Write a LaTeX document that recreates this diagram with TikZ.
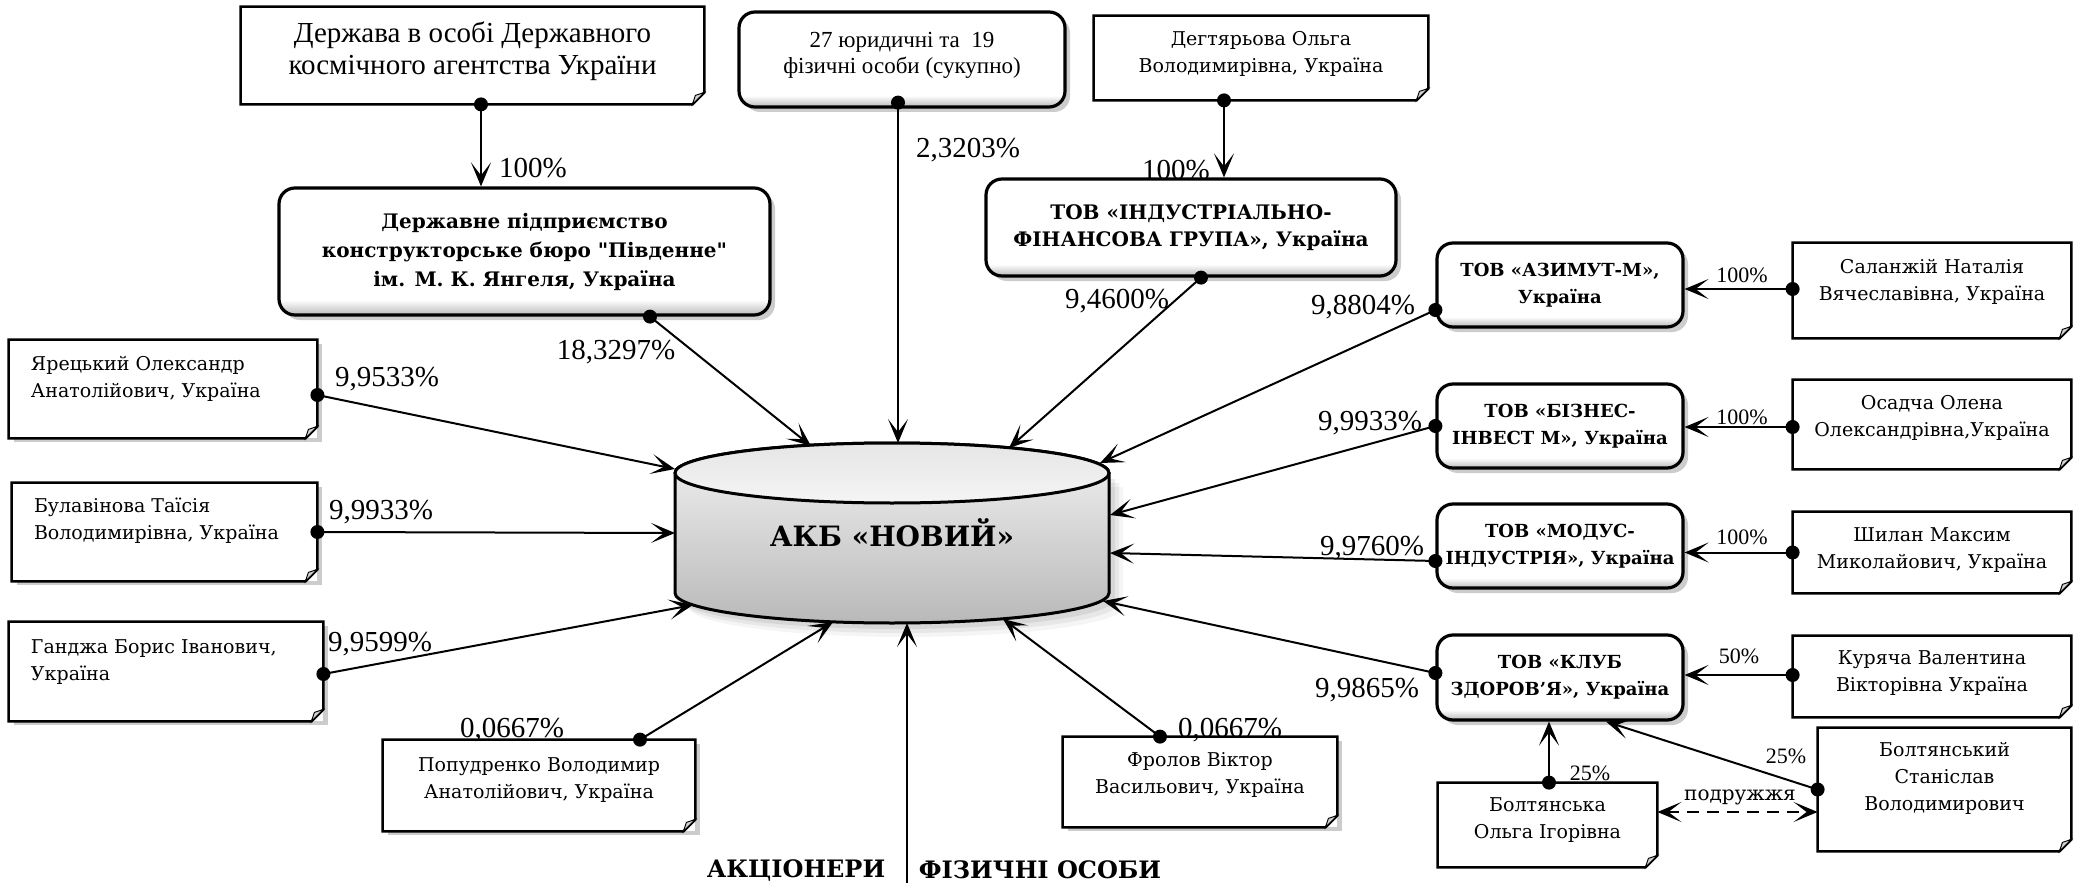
\documentclass[tikz,border=0pt]{standalone}
\usepackage{fontspec}
\setmainfont{Liberation Serif}
\newfontfamily\bkm{DejaVu Serif}
\usetikzlibrary{arrows.meta,shadows}
\pgfdeclareverticalshading{bevel}{100bp}{color(0bp)=(gray!55); color(25bp)=(gray!55); color(31bp)=(white); color(100bp)=(white)}
\pgfdeclareverticalshading{cylbody}{100bp}{color(0bp)=(gray!55); color(25bp)=(gray!55); color(75bp)=(gray!10); color(100bp)=(gray!10)}
\pgfdeclareverticalshading{cyltop}{100bp}{color(0bp)=(gray!8); color(25bp)=(gray!8); color(75bp)=(gray!20); color(100bp)=(gray!20)}
\newcommand\nbx[3]{\begin{minipage}[c][#2][t]{#1}#3\end{minipage}}
\newcommand\nfont{\bkm\fontsize{9.5}{13.5}\selectfont}
\newcommand\noteframe[1]{%
  \draw[line width=1.2pt] (#1.north west) -- (#1.north east) -- ([yshift=6pt]#1.south east) -- ([xshift=-6pt]#1.south east) -- (#1.south west) -- cycle;
  \filldraw[fill=gray!35, line width=0.5pt] ([yshift=6pt]#1.south east) -- ([xshift=-4.5pt,yshift=4.5pt]#1.south east) -- ([xshift=-6pt]#1.south east) -- cycle;}
\begin{document}
\begin{tikzpicture}[x=0.5pt,y=-0.5pt,
  rbox/.style={draw, line width=1.6pt, rounded corners=8pt, shading=bevel, inner sep=0pt, align=center,
    drop shadow={shadow xshift=2.5pt, shadow yshift=-2.5pt, opacity=0.4, fill=gray}},
  rbold/.style={rbox, font=\bkm\bfseries\fontsize{9}{13.5}\selectfont},
  note/.style={inner sep=0pt, fill=white},
  snote/.style={note, drop shadow={shadow xshift=2.5pt, shadow yshift=-2pt, opacity=0.4, fill=gray}},
  pct/.style={inner sep=0pt, font=\fontsize{14.5}{16}\selectfont},
  spct/.style={inner sep=0pt, font=\fontsize{11}{13}\selectfont},
  tip/.tip={Stealth[length=12pt,width=10pt,inset=6.5pt]},
  conn/.style={line width=1pt, -tip},
  dotc/.style={fill=black},
  bigl/.style={inner sep=0pt, font=\bkm\bfseries\fontsize{12}{14}\selectfont}
  ]
\useasboundingbox (0,0) rectangle (2073,883);

% ---- cylinder ----
\foreach \s/\o in {14/0.08,10/0.12,6/0.16}{
  \fill[gray,opacity=\o] (675+\s,473+\s) -- (675+\s,593+\s) arc[start angle=180,end angle=0,x radius=217,y radius=30] -- (1109+\s,473+\s) -- cycle;}
\path[shading=cylbody, draw, line width=1.5pt] (675,473) -- (675,593) arc[start angle=180,end angle=0,x radius=217,y radius=30] -- (1109,473) arc[start angle=0,end angle=-180,x radius=217,y radius=30] -- cycle;
\path[shading=cyltop, draw, line width=1.5pt] (892,473) ellipse [x radius=217, y radius=30];
\node[font=\bkm\bfseries\fontsize{14}{16}\selectfont, inner sep=0pt] (akb) at (892,533) {АКБ «НОВИЙ»};

% ---- top row ----
\node[note] (derzh) at (472.5,55.5) {\nbx{231.5pt}{48.5pt}{\fontsize{14.5}{16}\selectfont\centering\rule{0pt}{18pt}Держава в особі Державного\\космічного агентства України}};
\noteframe{derzh}
\node[rbox] (sum27) at (902,59.5) {\nbx{163pt}{47.5pt}{\fontsize{11.5}{13}\selectfont\centering\rule{0pt}{18pt}27 юридичні та\ \ 19\\фізичні особи (сукупно)}};
\node[note] (degt) at (1261,58) {\nbx{167pt}{42pt}{\nfont\centering\rule{0pt}{15pt}Дегтярьова Ольга\\Володимирівна, Україна}};
\noteframe{degt}

\node[rbold, minimum width=245.5pt, minimum height=63.5pt, font=\bkm\bfseries\fontsize{10}{14.5}\selectfont] (dp) at (524.5,251.5) {Державне підприємство\\конструкторське бюро "Південне"\\ім. М. К. Янгеля, Україна};
\node[rbold, minimum width=205pt, minimum height=48.5pt, font=\bkm\bfseries\fontsize{10}{13.5}\selectfont] (ifg) at (1191,227.5) {ТОВ «ІНДУСТРІАЛЬНО-\\ФІНАНСОВА ГРУПА», Україна};

% ---- right column ----
\node[rbold, minimum width=123pt, minimum height=42pt] (az) at (1560,285) {ТОВ «АЗИМУТ-М»,\\Україна};
\node[rbold, minimum width=123pt, minimum height=42pt] (biz) at (1560,426) {ТОВ «БІЗНЕС-\\ІНВЕСТ М», Україна};
\node[rbold, minimum width=123pt, minimum height=42pt] (mod) at (1560,546) {ТОВ «МОДУС-\\ІНДУСТРІЯ», Україна};
\node[rbold, minimum width=123pt, minimum height=42.5pt] (klub) at (1560,677.5) {ТОВ «КЛУБ\\ЗДОРОВ’Я», Україна};

\node[note] (salan) at (1932,290.5) {\nbx{139pt}{47.5pt}{\nfont\centering\rule{0pt}{15pt}Саланжій Наталія\\Вячеславівна, Україна}};
\noteframe{salan}
\node[note] (osad) at (1932,424.5) {\nbx{139pt}{44.5pt}{\nfont\centering\rule{0pt}{14.5pt}Осадча Олена\\Олександрівна,Україна}};
\noteframe{osad}
\node[note] (shyl) at (1932,552.5) {\nbx{139pt}{40.5pt}{\nfont\centering\rule{0pt}{14.5pt}Шилан Максим\\Миколайович, Україна}};
\noteframe{shyl}
\node[note] (kur) at (1932,676.5) {\nbx{139pt}{40.5pt}{\nfont\centering\rule{0pt}{14pt}Куряча Валентина\\Вікторівна Україна}};
\noteframe{kur}
\node[note] (boltm) at (1944.5,789.5) {\nbx{126.5pt}{61.5pt}{\nfont\centering\rule{0pt}{14pt}Болтянський\\Станіслав\\Володимирович}};
\noteframe{boltm}
\node[note] (boltf) at (1547.5,825) {\nbx{109.5pt}{42pt}{\nfont\centering\rule{0pt}{14pt}Болтянська\\Ольга Ігорівна}};
\noteframe{boltf}

% ---- left column and bottom ----
\node[snote] (yar) at (163,389) {\nbx{154pt}{49pt}{\nfont\raggedright\leftskip=11pt\rule{0pt}{15pt}Ярецький Олександр\\Анатолійович, Україна}};
\noteframe{yar}
\node[snote] (bul) at (164.5,532) {\nbx{152.5pt}{49pt}{\nfont\raggedright\leftskip=11pt\rule{0pt}{14.5pt}Булавінова Таїсія\\Володимирівна, Україна}};
\noteframe{bul}
\node[snote] (gan) at (166,671.5) {\nbx{157pt}{49.5pt}{\nfont\raggedright\leftskip=11pt\rule{0pt}{15.5pt}Ганджа Борис Іванович,\\Україна}};
\noteframe{gan}
\node[snote] (pop) at (539,785.5) {\nbx{156pt}{45.5pt}{\nfont\centering\rule{0pt}{15.5pt}Попудренко Володимир\\Анатолійович, Україна}};
\noteframe{pop}
\node[snote] (frol) at (1200,782) {\nbx{137pt}{45pt}{\nfont\centering\rule{0pt}{14.5pt}Фролов Віктор\\Васильович, Україна}};
\noteframe{frol}

% ---- connector points ----
\coordinate (d-derzh) at ([xshift=4.25pt]derzh.south);
\coordinate (d-degt) at ([xshift=-18.5pt]degt.south);
\coordinate (d-27) at ([xshift=-2pt,yshift=3pt]sum27.south);
\coordinate (d-dp) at ([xshift=62.75pt]dp.south);
\coordinate (d-ifg) at ([xshift=5pt]ifg.south);
\coordinate (d-az) at ([yshift=-12.5pt]az.west);
\coordinate (d-biz) at (biz.west);
\coordinate (d-mod) at ([yshift=-7.5pt]mod.west);
\coordinate (d-klub) at ([yshift=2.25pt]klub.west);
\coordinate (d-yar) at ([yshift=-3pt]yar.east);
\coordinate (d-bul) at (bul.east);
\coordinate (d-gan) at ([yshift=-1.25pt]gan.east);
\coordinate (d-pop) at ([xshift=50.5pt]pop.north);
\coordinate (d-frol) at ([xshift=-20pt]frol.north);
\coordinate (d-salan) at ([yshift=0.75pt]salan.west);
\coordinate (d-osad) at ([yshift=-1.25pt]osad.west);
\coordinate (d-shyl) at (shyl.west);
\coordinate (d-kur) at ([yshift=0.75pt]kur.west);
\coordinate (d-boltm) at (boltm.west);
\coordinate (d-boltf) at ([xshift=0.75pt]boltf.north);
\coordinate (c-27) at (898,443);
\coordinate (c-dp) at (811,446);
\coordinate (c-ifg) at (1009,448);
\coordinate (c-az) at (1100,463);
\coordinate (c-biz) at (1110,515);
\coordinate (c-mod) at (1110,553);
\coordinate (c-klub) at (1103,601);
\coordinate (c-yar) at (675,469);
\coordinate (c-bul) at (675,533);
\coordinate (c-gan) at (693,605);
\coordinate (c-pop) at (833,622);
\coordinate (c-frol) at (1003,619);
\coordinate (c-bot) at (907,623);
\coordinate (c-base) at (907,883);

% ---- connectors ----
\draw[conn] (d-derzh) -- (d-derzh |- dp.north);
\draw[conn] (d-degt) -- (d-degt |- ifg.north);
\draw[conn, line width=0.7pt] (d-27) -- (c-27);
\draw[conn] (d-dp) -- (c-dp);
\draw[conn] (d-ifg) -- (c-ifg);
\draw[conn] (d-az) -- (c-az);
\draw[conn] (d-biz) -- (c-biz);
\draw[conn] (d-mod) -- (c-mod);
\draw[conn] (d-klub) -- (c-klub);
\draw[conn] (d-yar) -- (c-yar);
\draw[conn] (d-bul) -- (c-bul);
\draw[conn] (d-gan) -- (c-gan);
\draw[conn] (d-pop) -- (c-pop);
\draw[conn] (d-frol) -- (c-frol);
\draw[conn, line width=0.7pt] (c-base) -- (c-bot);
\draw[conn] (d-salan) -- (d-salan -| az.east);
\draw[conn] (d-osad) -- (d-osad -| biz.east);
\draw[conn] (d-shyl) -- (d-shyl -| mod.east);
\draw[conn] (d-kur) -- (d-kur -| klub.east);
\draw[conn] (d-boltm) -- ([xshift=23pt]klub.south);
\draw[conn] (d-boltf) -- (d-boltf |- klub.south);
\coordinate (s-f) at ([yshift=6.5pt]boltf.east);
\draw[line width=1pt, dash pattern=on 6pt off 4pt, tip-tip] (s-f) -- (s-f -| boltm.west);

\foreach \d in {derzh,degt,27,dp,ifg,az,biz,mod,klub,yar,bul,gan,pop,frol,salan,osad,shyl,kur,boltm,boltf}
  \fill[dotc] (d-\d) circle (3.5pt);

% ---- labels ----
\node[pct] (l-derzh) at (533,168) {100\%};
\node[pct] (l-27) at (968,150) {2,3203\%};
\node[pct] (l-degt) at (1176,170) {100\%};
\node[pct] (l-dp) at (616,352) {18,3297\%};
\node[pct] (l-ifg) at (1117,301) {9,4600\%};
\node[pct] (l-az) at (1363,307) {9,8804\%};
\node[pct] (l-biz) at (1370,423) {9,9933\%};
\node[pct] (l-mod) at (1372,548) {9,9760\%};
\node[pct] (l-klub) at (1367,690) {9,9865\%};
\node[pct] (l-yar) at (387,379) {9,9533\%};
\node[pct] (l-bul) at (381,512) {9,9933\%};
\node[pct] (l-gan) at (380,644) {9,9599\%};
\node[pct] (l-pop) at (512,730) {0,0667\%};
\node[pct] (l-frol) at (1230,730) {0,0667\%};
\node[spct] (l-salan) at (1742,275) {100\%};
\node[spct] (l-osad) at (1742,417) {100\%};
\node[spct] (l-shyl) at (1742,537) {100\%};
\node[spct] (l-kur) at (1739,656) {50\%};
\node[spct] (l-boltm) at (1786,756) {25\%};
\node[spct] (l-boltf) at (1590,773) {25\%};
\node[inner sep=0pt, font=\bkm\fontsize{10}{12}\selectfont] (l-spouse) at (1740,797) {подружжя};
\node[bigl] (ak) at (796,870) {АКЦІОНЕРИ};
\node[bigl] (fo) at (1040,870) {ФІЗИЧНІ ОСОБИ};
\end{tikzpicture}
\end{document}
